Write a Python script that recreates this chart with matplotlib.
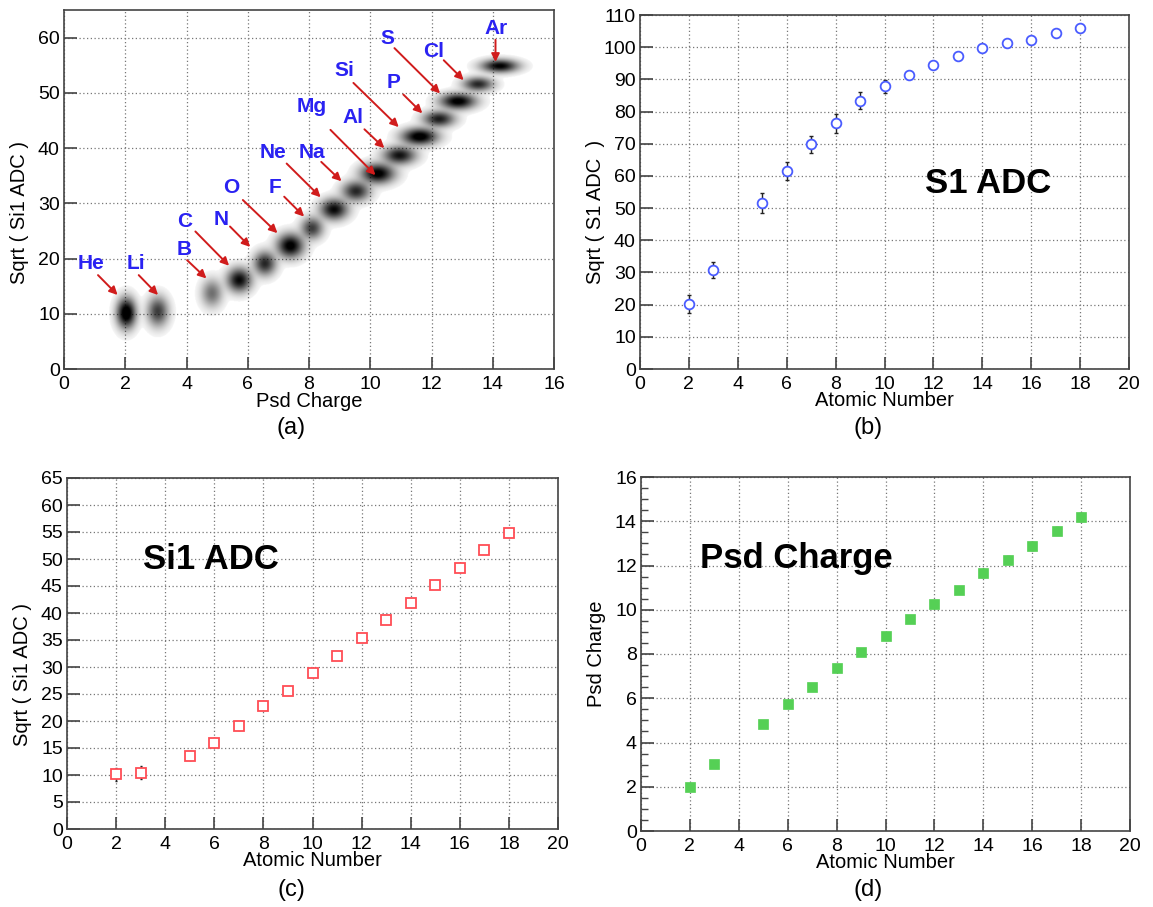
import numpy as np
import matplotlib
matplotlib.use('Agg')
from matplotlib import pyplot as plt

plt.rcParams['font.family'] = ['Liberation Sans', 'DejaVu Sans']

# ---- panel (a): cluster positions
elements = ['He', 'Li', 'B', 'C', 'N', 'O', 'F', 'Ne', 'Na', 'Mg', 'Al', 'Si', 'P', 'S', 'Cl', 'Ar']
psd_center = [2.03, 3.06, 4.83, 5.72, 6.56, 7.39, 8.10, 8.82, 9.54, 10.25, 10.96, 11.62, 12.25, 12.87, 13.53, 14.24]
adc_center = [10.1, 10.4, 13.7, 16.1, 19.1, 22.3, 25.5, 28.9, 32.2, 35.4, 38.7, 42.1, 45.3, 48.5, 51.6, 54.9]
psd_sigma = [0.17, 0.19, 0.19, 0.22, 0.20, 0.24, 0.20, 0.25, 0.25, 0.30, 0.29, 0.32, 0.28, 0.32, 0.27, 0.33]
adc_sigma = [1.5, 1.5, 1.4, 1.2, 1.2, 1.2, 1.1, 1.05, 1.0, 1.0, 0.9, 0.85, 0.8, 0.8, 0.7, 0.65]
density = [1.0, 0.5, 0.3, 0.75, 0.6, 0.85, 0.5, 0.75, 0.6, 0.85, 0.7, 0.9, 0.65, 0.85, 0.6, 0.8]

# label text position and arrow (tail -> head) in data units of panel (a)
label_xy = [(0.89, 19.1), (2.35, 19.1), (3.91, 21.7), (3.93, 26.7), (5.12, 27.1), (5.46, 32.9),
            (6.88, 32.9), (6.83, 39.2), (8.10, 39.2), (8.10, 47.5), (9.42, 45.5), (9.14, 54.0),
            (10.76, 51.8), (10.55, 59.9), (12.07, 57.5), (14.10, 61.7)]
arrow_tail = [(1.11, 17.0), (2.44, 17.0), (4.02, 19.7), (4.29, 24.9), (5.42, 25.8), (5.84, 30.6),
              (7.19, 31.2), (7.27, 37.2), (8.40, 37.5), (8.70, 43.3), (9.81, 43.4), (9.45, 51.8),
              (11.08, 49.7), (10.79, 58.1), (12.40, 55.9), (14.09, 59.6)]
arrow_head = [(1.75, 13.4), (3.07, 13.4), (4.65, 16.4), (5.39, 18.7), (6.08, 22.1), (6.97, 24.6),
              (7.84, 27.6), (8.38, 31.1), (9.06, 34.0), (10.17, 35.1), (10.46, 40.0), (10.93, 43.8),
              (11.70, 46.3), (12.28, 49.9), (13.05, 52.3), (14.09, 55.6)]

# ---- panels (b), (c), (d): mean values vs atomic number
atomic_number = [2, 3, 5, 6, 7, 8, 9, 10, 11, 12, 13, 14, 15, 16, 17, 18]
s1_adc = [20.2, 30.7, 51.6, 61.5, 69.8, 76.3, 83.4, 87.9, 91.5, 94.6, 97.4, 99.9, 101.4, 102.3, 104.3, 106.1]
s1_err = [2.8, 2.4, 3.0, 2.8, 2.7, 3.0, 2.7, 2.0, 1.0, 0.8, 0.8, 0.8, 0.8, 0.8, 0.8, 0.8]
si1_adc = [10.1, 10.4, 13.6, 16.0, 19.0, 22.8, 25.6, 28.8, 32.0, 35.3, 38.7, 41.9, 45.1, 48.4, 51.6, 54.9]
si1_err = [1.2, 1.2, 0.9, 0.9, 0.6, 0.5, 0.5, 0.5, 0.5, 0.5, 0.5, 0.5, 0.5, 0.5, 0.5, 0.5]
psd_charge = [2.0, 3.05, 4.83, 5.73, 6.53, 7.35, 8.11, 8.82, 9.56, 10.25, 10.9, 11.64, 12.26, 12.9, 13.57, 14.21]
psd_err = [0.05, 0.05, 0.08, 0.08, 0.08, 0.1, 0.1, 0.1, 0.1, 0.1, 0.12, 0.18, 0.15, 0.18, 0.15, 0.18]

W, H = 1153, 907
fig = plt.figure(figsize=(W / 100, H / 100), dpi=100)


def px_axes(left, top, right, bottom):
    return fig.add_axes([left / W, 1 - bottom / H, (right - left) / W, (bottom - top) / H])


def root_style(ax, xlim, ylim, xstep, ystep, yminor=None):
    ax.set_xlim(*xlim)
    ax.set_ylim(*ylim)
    ax.set_xticks(np.arange(xlim[0], xlim[1] + 0.01, xstep))
    ax.set_yticks(np.arange(ylim[0], ylim[1] + 0.01, ystep))
    if yminor:
        ax.set_yticks(np.arange(ylim[0], ylim[1] + 0.01, yminor), minor=True)
    ax.grid(True, which='major', color='#777777', linestyle=(0, (1, 2)), linewidth=0.9)
    ax.set_axisbelow(True)
    ax.tick_params(direction='in', length=9, width=1.2, color='#444444', labelsize=14,
                   top=False, right=False)
    ax.tick_params(axis='y', pad=3)
    ax.tick_params(axis='x', pad=5)
    ax.tick_params(which='minor', direction='in', length=5, width=1.0, color='#444444',
                   top=False, right=False)
    for sp in ax.spines.values():
        sp.set_color('#444444')
        sp.set_linewidth(1.2)


def titles(ax, xtitle, ytitle, yfrac):
    ax.text(0.5, -0.09, xtitle, transform=ax.transAxes, ha='center', va='center', fontsize=14.5)
    ax.text(-0.09, yfrac, ytitle, transform=ax.transAxes, ha='center', va='center',
            rotation=90, fontsize=14.5)


# (a) scatter of Sqrt(Si1 ADC) vs Psd charge
ax_a = px_axes(64, 10, 554, 369)
root_style(ax_a, (0, 16), (0, 65), 2, 10)
gx, gy = np.meshgrid(np.linspace(0, 16, 900), np.linspace(0, 65, 700))
dens = np.zeros_like(gx)
for cx, cy, sx, sy, w in zip(psd_center, adc_center, psd_sigma, adc_sigma, density):
    dens += w * np.exp(-0.5 * ((gx - cx) / sx) ** 2 - 0.5 * ((gy - cy) / sy) ** 2)
rgba = np.zeros(gx.shape + (4,))
rgba[..., 3] = np.clip(1.3 * dens, 0, 1) ** 0.6
rgba[..., 3][rgba[..., 3] < 0.04] = 0
ax_a.imshow(rgba, extent=[0, 16, 0, 65], origin='lower', aspect='auto', zorder=2,
            interpolation='bilinear')
for name, txy, tail, head in zip(elements, label_xy, arrow_tail, arrow_head):
    ax_a.text(txy[0], txy[1], name, color='#2a22f2', fontsize=15, fontweight='bold',
              ha='center', va='center', zorder=4)
    ax_a.annotate('', xy=head, xytext=tail, zorder=4,
                  arrowprops=dict(arrowstyle='-|>', color='#d01c1c', lw=1.4,
                                  mutation_scale=12, shrinkA=0, shrinkB=0))
titles(ax_a, 'Psd Charge', 'Sqrt ( Si1 ADC )', 0.437)

# (b) S1 ADC
ax_b = px_axes(640, 15, 1129, 369)
root_style(ax_b, (0, 20), (0, 110), 2, 10)
ax_b.errorbar(atomic_number, s1_adc, yerr=s1_err, fmt='none', ecolor='#222222',
              elinewidth=1.0, capsize=1.5, zorder=3)
ax_b.plot(atomic_number, s1_adc, 'o', ms=7, mfc='white', mec='#4a5cff', mew=1.3, zorder=4)
ax_b.text(0.712, 0.498, 'S1 ADC', transform=ax_b.transAxes, fontsize=25, fontweight='bold',
          ha='center', va='baseline')
titles(ax_b, 'Atomic Number', 'Sqrt ( S1 ADC  )', 0.443)

# (c) Si1 ADC
ax_c = px_axes(67, 478, 558, 829)
root_style(ax_c, (0, 20), (0, 65), 2, 5)
ax_c.errorbar(atomic_number, si1_adc, yerr=si1_err, fmt='none', ecolor='#222222',
              elinewidth=1.0, capsize=1.0, zorder=3)
ax_c.plot(atomic_number, si1_adc, 's', ms=7, mfc='white', mec='#ff4d55', mew=1.3, zorder=4)
ax_c.text(0.294, 0.740, 'Si1 ADC', transform=ax_c.transAxes, fontsize=25, fontweight='bold',
          ha='center', va='baseline')
titles(ax_c, 'Atomic Number', 'Sqrt ( Si1 ADC )', 0.439)

# (d) Psd charge
ax_d = px_axes(641, 477, 1130, 831)
root_style(ax_d, (0, 20), (0, 16), 2, 2, yminor=0.5)
ax_d.errorbar(atomic_number, psd_charge, yerr=psd_err, fmt='none', ecolor='#222222',
              elinewidth=1.0, capsize=1.5, zorder=3)
ax_d.plot(atomic_number, psd_charge, 's', ms=7, mfc='#55d055', mec='#55d055', mew=0.5, zorder=4)
ax_d.text(0.317, 0.742, 'Psd Charge', transform=ax_d.transAxes, fontsize=25, fontweight='bold',
          ha='center', va='baseline')
titles(ax_d, 'Atomic Number', 'Psd Charge', 0.5)

# panel captions
for lab, x, y in [('(a)', 291, 428), ('(b)', 868, 428), ('(c)', 291, 890), ('(d)', 868, 890)]:
    fig.text(x / W, 1 - y / H, lab, ha='center', va='center', fontsize=17)

fig.savefig('out.png', dpi=100)
